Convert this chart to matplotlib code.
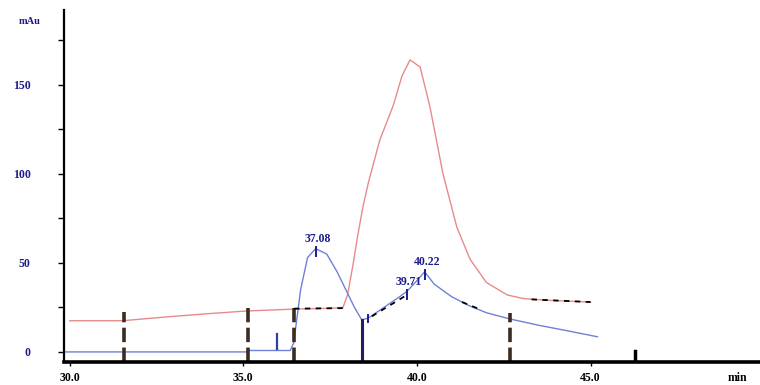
import numpy as np
import matplotlib
matplotlib.use("Agg")
import matplotlib.pyplot as plt

## DATA
# red trace
t_red = [30.0, 31.5, 33.0, 34.0, 35.1, 36.4, 37.0, 37.5, 37.87, 38.0, 38.15, 38.3, 38.45,
         38.6, 38.93, 39.31, 39.57, 39.8, 40.09, 40.37, 40.75, 41.15, 41.53, 42.0, 42.6,
         43.05, 43.75, 45.0]
red = [17.5, 17.5, 20.0, 21.5, 23.0, 24.0, 24.3, 24.5, 25, 32, 48, 66, 82,
       95, 119, 138, 155, 164, 160, 138, 100, 70, 52, 39, 32,
       30, 29, 28]

# blue trace
t_blue = [29.85, 35.1, 35.15, 36.35, 36.45, 36.55, 36.65, 36.85, 37.08, 37.4, 37.7, 38.0,
          38.2, 38.41, 38.6, 38.9, 39.2, 39.5, 39.71, 40.0, 40.22, 40.5, 41.0, 41.5, 42.0,
          42.68, 43.5, 44.3, 45.2]
blue = [0, 0, 0.8, 0.8, 5, 20, 35, 53, 58, 55, 45, 33,
        25, 18, 19, 23, 27, 31, 34, 40, 45, 38, 31, 26, 22,
        18.5, 15, 12, 8.5]

# peak labels
peak_t = [37.08, 39.71, 40.22]
peak_y = [58, 34, 45]
peak_txt = ["37.08", "39.71", "40.22"]

# event marks (dashed verticals) and their tops
ev_t = [31.56, 35.13, 36.46, 42.68]
ev_top = [22.5, 24.7, 24.7, 22.0]

# baseline segments drawn by the integrator
base_t0 = [36.46, 38.7, 41.3, 43.3]
base_y0 = [24.3, 20.0, 28.0, 29.5]
base_t1 = [37.9, 39.71, 41.8, 45.0]
base_y1 = [24.6, 32.0, 24.0, 28.0]

xticks = [30, 35, 40, 45]
xtick_labels = ["30.0", "35.0", "40.0", "45.0"]
yticks = [0, 50, 100, 150]

## DOING THE GRAPH
plt.rcParams["font.family"] = ["Liberation Serif", "DejaVu Serif"]
navy = "#1c1c8a"

fig = plt.figure(figsize=(7.6, 3.85), dpi=100)
ax = fig.add_axes([0.084, 0.06, 0.916, 0.914])

ax.plot(t_red, red, color="#e88a8a", lw=1.0)
ax.plot(t_blue, blue, color="#7080d8", lw=1.0)

ymin = -5.6
for t, top in zip(ev_t, ev_top):
    ax.plot([t, t], [ymin, top], color="#3a2c22", lw=2.6, ls=(0, (4, 1.5)))
ax.plot([38.41, 38.41], [ymin, 18], color="#202060", lw=2.2)   # solid blue mark
ax.plot([35.97, 35.97], [1.5, 10], color="#3040a0", lw=1.6)   # small blue tick
ax.plot([46.28, 46.28], [ymin, 0.5], color="black", lw=2.5)   # small tick at end

for a, b, c, d in zip(base_t0, base_y0, base_t1, base_y1):
    ax.plot([a, c], [b, d], color="black", lw=1.3, ls=(0, (3, 3)))

for t, y, s in zip(peak_t, peak_y, peak_txt):
    ax.plot([t, t], [y - 4, y + 1], color=navy, lw=1.4)
    ax.text(t + 0.06, y + 2, s, color=navy, fontsize=8.5, fontweight="bold",
            ha="center", va="bottom")
ax.plot([38.6, 38.6], [17, 21], color=navy, lw=1.4)

ax.set_xlim(29.83, 49.88)
ax.set_ylim(ymin, 192)
ax.set_xticks(xticks)
ax.set_xticklabels(xtick_labels, fontsize=8.5, fontweight="bold")
ax.set_yticks(yticks)
ax.set_yticklabels([str(v) for v in yticks], fontsize=8.5, fontweight="bold", color=navy)
ax.set_yticks([25, 75, 125, 175], minor=True)
ax.tick_params(axis="y", which="both", length=4, width=1, pad=20)
ax.tick_params(axis="x", length=3, width=1, pad=4)

for s in ["top", "right"]:
    ax.spines[s].set_visible(False)
ax.spines["left"].set_linewidth(1.6)
ax.spines["bottom"].set_linewidth(2.6)

ax.text(-0.049, 0.966, "mAu", transform=ax.transAxes, color=navy, fontsize=7.5,
        fontweight="bold", ha="center", va="center")
ax.text(0.968, -0.045, "min", transform=ax.transAxes, color="black", fontsize=8.5,
        fontweight="bold", ha="center", va="center")

plt.savefig("out.png", dpi=100)
